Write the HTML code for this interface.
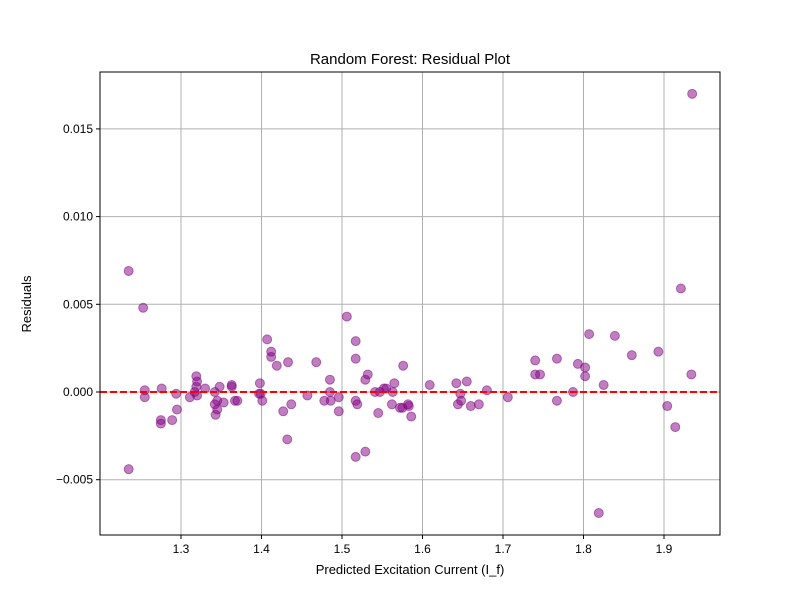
<!DOCTYPE html>
<html><head><meta charset="utf-8"><style>
body{margin:0;background:#fff}
svg text{font-family:"Liberation Sans","DejaVu Sans",sans-serif;fill:#000}
</style></head><body>
<svg id="chart" width="800" height="600" xmlns="http://www.w3.org/2000/svg">
<rect width="800" height="600" fill="#fff"/>
<g id="grid"></g>
<g id="pts"></g>
<g id="axes"></g>
<text x="410" y="64" text-anchor="middle" font-size="15">Random Forest: Residual Plot</text>
<text x="410" y="574" text-anchor="middle" font-size="13">Predicted Excitation Current (I_f)</text>
<text x="31" y="304" text-anchor="middle" font-size="13" transform="rotate(-90 31 304)">Residuals</text>
</svg>
<script>
const predicted=[1.235,1.253,1.255,1.255,1.235,1.276,1.275,1.275,1.294,1.295,1.289,1.311,1.319,1.320,1.319,1.317,1.320,1.330,1.342,1.342,1.345,1.345,1.343,1.348,1.353,1.363,1.363,1.367,1.370,1.398,1.397,1.399,1.401,1.407,1.412,1.412,1.419,1.427,1.433,1.437,1.432,1.457,1.468,1.478,1.485,1.485,1.486,1.496,1.496,1.506,1.517,1.517,1.519,1.517,1.517,1.529,1.532,1.529,1.545,1.541,1.552,1.547,1.555,1.562,1.563,1.565,1.576,1.572,1.575,1.582,1.583,1.586,1.609,1.642,1.644,1.647,1.648,1.655,1.660,1.670,1.680,1.706,1.740,1.740,1.746,1.767,1.767,1.787,1.793,1.802,1.802,1.807,1.819,1.825,1.839,1.860,1.893,1.904,1.914,1.921,1.934,1.935];
const residuals=[0.0069,0.0048,0.0001,-0.0003,-0.0044,0.0002,-0.0016,-0.0018,-0.0001,-0.0010,-0.0016,-0.0003,0.0009,0.0006,0.0003,0.0000,-0.0002,0.0002,0.0000,-0.0007,-0.0005,-0.0010,-0.0013,0.0003,-0.0006,0.0004,0.0003,-0.0005,-0.0005,0.0005,-0.0001,-0.0001,-0.0005,0.0030,0.0023,0.0020,0.0015,-0.0011,0.0017,-0.0007,-0.0027,-0.0002,0.0017,-0.0005,0.0007,0.0000,-0.0005,-0.0011,-0.0003,0.0043,0.0029,0.0019,-0.0007,-0.0005,-0.0037,0.0007,0.0010,-0.0034,-0.0012,0.0000,0.0002,0.0000,0.0002,-0.0007,0.0000,0.0005,0.0015,-0.0009,-0.0009,-0.0007,-0.0008,-0.0014,0.0004,0.0005,-0.0007,-0.0001,-0.0005,0.0006,-0.0008,-0.0007,0.0001,-0.0003,0.0018,0.0010,0.0010,0.0019,-0.0005,0.0000,0.0016,0.0014,0.0009,0.0033,-0.0069,0.0004,0.0032,0.0021,0.0023,-0.0008,-0.0020,0.0059,0.0010,0.0170];
const xTicks=[1.3,1.4,1.5,1.6,1.7,1.8,1.9];
const xTickLabels=["1.3","1.4","1.5","1.6","1.7","1.8","1.9"];
const yTicks=[-0.005,0,0.005,0.010,0.015];
const yTickLabels=["\u22120.005","0.000","0.005","0.010","0.015"];
const L=100,R=720,T=72,B=535;
const X=v=>181+(v-1.3)*805;
const Y=v=>392-v*17540;
const NS="http://www.w3.org/2000/svg";
function mk(tag,attrs,parent){const e=document.createElementNS(NS,tag);for(const k in attrs)e.setAttribute(k,attrs[k]);parent.appendChild(e);return e;}
const grid=document.getElementById('grid'),pts=document.getElementById('pts'),axes=document.getElementById('axes');
xTicks.forEach((t,i)=>{const x=X(t);
 const g=mk('line',{x1:x,x2:x,y1:T,y2:B,stroke:'#b0b0b0','stroke-width':1},grid);
 
 mk('line',{x1:x,x2:x,y1:B,y2:B+4,stroke:'#000'},axes);
 const tx=mk('text',{x:x,y:B+18,'text-anchor':'middle','font-size':12},axes);tx.textContent=xTickLabels[i];
 });
yTicks.forEach((t,i)=>{const y=Y(t);
 const g=mk('line',{x1:L,x2:R,y1:y,y2:y,stroke:'#b0b0b0','stroke-width':1},grid);
 
 mk('line',{x1:L-4,x2:L,y1:y,y2:y,stroke:'#000'},axes);
 const tx=mk('text',{x:L-7,y:y+4,'text-anchor':'end','font-size':12},axes);tx.textContent=yTickLabels[i];
 });
predicted.forEach((p,i)=>{
 const c=mk('circle',{cx:X(p),cy:Y(residuals[i]),r:4.5,fill:'purple','fill-opacity':0.5,stroke:'purple','stroke-opacity':0.5},pts);
 });
const zl=mk('line',{x1:L,x2:R,y1:Y(0),y2:Y(0),stroke:'red','stroke-width':2,'stroke-dasharray':'7,3'},axes);

const fr=mk('rect',{x:L,y:T,width:R-L,height:B-T,fill:'none',stroke:'#000','stroke-width':1},axes);

</script>
</body></html>
